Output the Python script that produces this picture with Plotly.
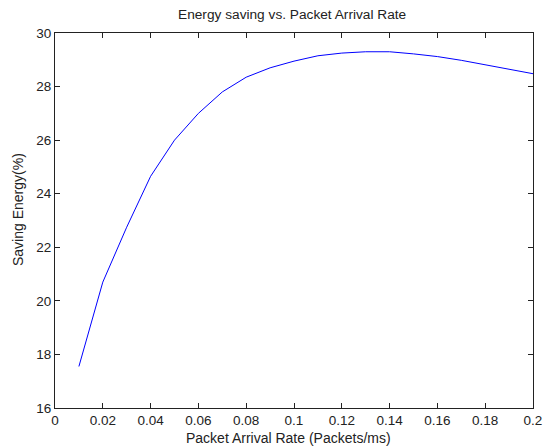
import plotly.graph_objects as go

rate = [0.01, 0.02, 0.03, 0.04, 0.05, 0.06, 0.07, 0.08, 0.09, 0.10,
        0.11, 0.12, 0.13, 0.14, 0.15, 0.16, 0.17, 0.18, 0.19, 0.20]
saving = [17.55, 20.7, 22.75, 24.65, 26.0, 27.0, 27.8, 28.35, 28.7, 28.95,
          29.15, 29.25, 29.3, 29.3, 29.22, 29.12, 28.98, 28.82, 28.66, 28.48]

x_ticks = [0, 0.02, 0.04, 0.06, 0.08, 0.1, 0.12, 0.14, 0.16, 0.18, 0.2]
x_tick_text = ["0", "0.02", "0.04", "0.06", "0.08", "0.1", "0.12", "0.14", "0.16", "0.18", "0.2"]
y_ticks = [16, 18, 20, 22, 24, 26, 28, 30]

title_text = "Energy saving vs. Packet Arrival Rate"
x_title = "Packet Arrival Rate (Packets/ms)"
y_title = "Saving Energy(%)"

fig = go.Figure(go.Scatter(x=rate, y=saving, mode="lines",
                           line=dict(color="#0000ff", width=1)))

fam = "Liberation Sans, Arial, sans-serif"
fig.update_layout(
    width=543, height=446,
    margin=dict(l=55, r=10, t=33, b=38, autoexpand=False),
    paper_bgcolor="white", plot_bgcolor="white",
    showlegend=False,
    font=dict(family=fam, size=13.5, color="#222"),
    annotations=[
        dict(text=title_text, xref="paper", yref="paper", x=0.495, y=1.048,
             xanchor="center", yanchor="middle", showarrow=False,
             font=dict(family=fam, size=13.7, color="#222")),
        dict(text=x_title, xref="paper", yref="paper", x=0.4885, y=-0.08,
             xanchor="center", yanchor="middle", showarrow=False,
             font=dict(family=fam, size=14, color="#222")),
        dict(text=y_title, xref="paper", yref="paper", x=-0.0774, y=0.528,
             xanchor="center", yanchor="middle", showarrow=False, textangle=-90,
             font=dict(family=fam, size=14, color="#222")),
    ],
)
fig.update_xaxes(range=[0, 0.2], tickvals=x_ticks, ticktext=x_tick_text,
                 ticks="inside", ticklen=5, tickcolor="#222", showline=True,
                 linecolor="#222", linewidth=1, mirror="ticks", showgrid=False,
                 zeroline=False, automargin=False, ticklabeloverflow="allow")
fig.update_yaxes(range=[16, 30], tickvals=y_ticks,
                 ticks="inside", ticklen=5, tickcolor="#222", showline=True,
                 linecolor="#222", linewidth=1, mirror="ticks", showgrid=False,
                 zeroline=False, automargin=False, ticklabeloverflow="allow")

fig.write_html("out.html",
               config={"displayModeBar": False},
               post_script="document.body.style.margin='0';document.body.style.overflow='hidden';")
